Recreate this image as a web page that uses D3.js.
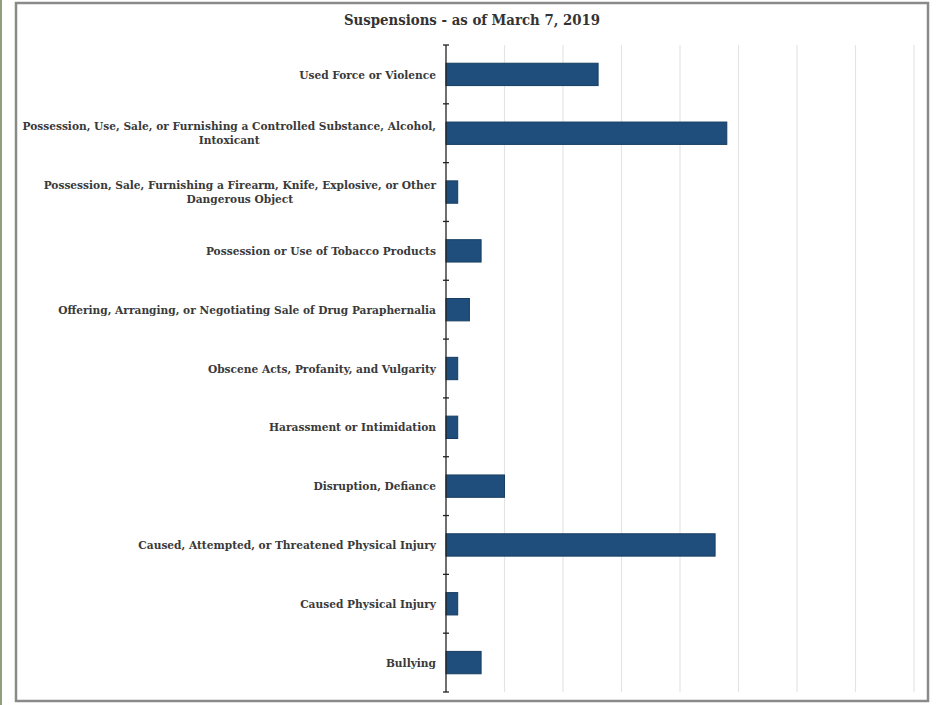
<!DOCTYPE html>
<html>
<head>
<meta charset="utf-8">
<script src="https://cdn.jsdelivr.net/npm/d3@7"></script>
<style>
  html, body { margin: 0; padding: 0; background: #fff; }
  svg { display: block; }
</style>
</head>
<body>
<svg id="chart" width="936" height="705"></svg>
<script>
const title = "Suspensions - as of March 7, 2019";
const categories = [
  ["Used Force or Violence"],
  ["Possession, Use, Sale, or Furnishing a Controlled Substance, Alcohol,", "Intoxicant"],
  ["Possession, Sale, Furnishing a Firearm, Knife, Explosive, or Other", "Dangerous Object"],
  ["Possession or Use of Tobacco Products"],
  ["Offering, Arranging, or Negotiating Sale of Drug Paraphernalia"],
  ["Obscene Acts, Profanity, and Vulgarity"],
  ["Harassment or Intimidation"],
  ["Disruption, Defiance"],
  ["Caused, Attempted, or Threatened Physical Injury"],
  ["Caused Physical Injury"],
  ["Bullying"]
];
const values = [13, 24, 1, 3, 2, 1, 1, 5, 23, 1, 3];
const xTicks = [0, 5, 10, 15, 20, 25, 30, 35, 40];

const svg = d3.select("#chart");
const W = 936, H = 705;
const plot = { left: 446, right: 914, top: 45, bottom: 692 };
const FONT = "'DejaVu Serif Condensed', 'DejaVu Serif', serif";

// background and frame
svg.append("rect").attr("width", W).attr("height", H).attr("fill", "#fff");
svg.append("line").attr("x1", 1).attr("x2", 1).attr("y1", 0).attr("y2", H)
  .attr("stroke", "#8fa07a").attr("stroke-width", 2);
svg.append("rect").attr("x", 16).attr("y", 3).attr("width", 912).attr("height", 698)
  .attr("fill", "none").attr("stroke", "#8a8a8a").attr("stroke-width", 2.5);

const ids = categories.map((c, i) => i);
const x = d3.scaleLinear().domain([0, 40]).range([plot.left, plot.right]);
const y = d3.scaleBand().domain(ids).range([plot.top, plot.bottom]).paddingInner(0.62).paddingOuter(0.31);

// gridlines
svg.append("g").selectAll("line").data(xTicks.slice(1)).join("line")
  .attr("x1", d => x(d)).attr("x2", d => x(d))
  .attr("y1", plot.top).attr("y2", plot.bottom)
  .attr("stroke", "#e4e4e4").attr("stroke-width", 1.2);

// bars
svg.append("g").selectAll("rect").data(values).join("rect")
  .attr("x", x(0))
  .attr("y", (d, i) => y(i))
  .attr("width", d => x(d) - x(0))
  .attr("height", y.bandwidth())
  .attr("fill", "#1f4e7c")
  .attr("stroke", "#173d61").attr("stroke-width", 1);

// y axis line + ticks at category boundaries
const step = y.step();
const boundaries = d3.range(categories.length + 1).map(i => plot.top + i * step);
const ax = svg.append("g");
ax.append("line").attr("x1", plot.left).attr("x2", plot.left)
  .attr("y1", plot.top).attr("y2", plot.bottom)
  .attr("stroke", "#222").attr("stroke-width", 1.3);
ax.selectAll("line.tk").data(boundaries).join("line").attr("class", "tk")
  .attr("x1", plot.left - 3).attr("x2", plot.left + 3)
  .attr("y1", d => d).attr("y2", d => d)
  .attr("stroke", "#222").attr("stroke-width", 1.3);

// category labels
const labelRight = plot.left - 10;
const lineH = 14;
const lg = svg.append("g").attr("font-family", FONT)
  .attr("font-weight", "bold").attr("font-size", 11.8).attr("fill", "#3a3a3a");
categories.forEach((lines, i) => {
  const cy = y(i) + y.bandwidth() / 2;
  const t = lg.append("text").attr("text-anchor", "middle");
  const n = lines.length;
  lines.forEach((ln, j) => {
    t.append("tspan").text(ln)
      .attr("y", cy + (j - (n - 1) / 2) * lineH)
      .attr("dy", "0.35em");
  });
  let maxW = 0;
  t.selectAll("tspan").each(function() { maxW = Math.max(maxW, this.getComputedTextLength()); });
  t.selectAll("tspan").attr("x", labelRight - maxW / 2);
});

// title
svg.append("text").attr("x", 472).attr("y", 20).attr("dy", "0.35em")
  .attr("text-anchor", "middle")
  .attr("font-family", FONT)
  .attr("font-weight", "bold").attr("font-size", 14.8).attr("fill", "#333")
  .text(title);
</script>
</body>
</html>
